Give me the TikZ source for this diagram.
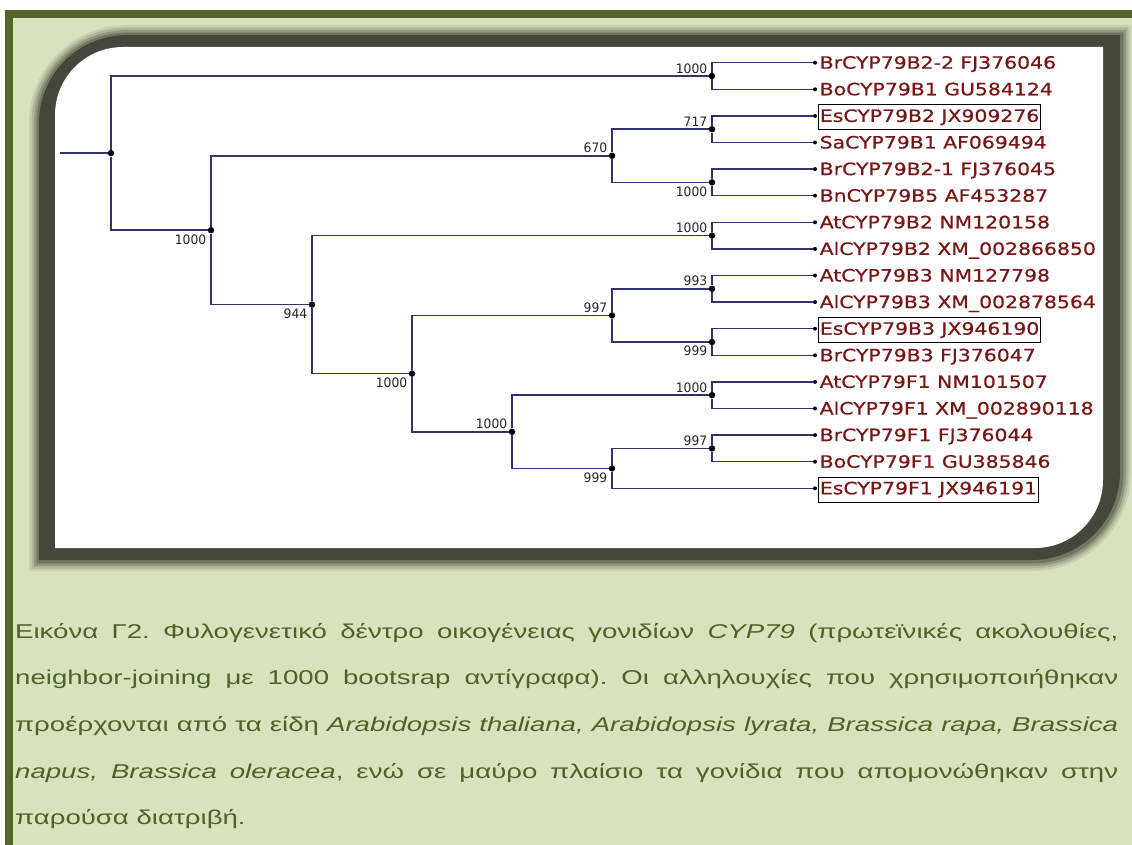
\documentclass[tikz,border=0pt]{standalone}
\usepackage{fontspec}
\newfontfamily\capfont[FakeStretch=1.38]{Liberation Sans}
\newfontfamily\leaffont[FakeStretch=1.2,FakeBold=0.6]{DejaVu Sans}
\newfontfamily\bsfont[FakeStretch=0.95]{DejaVu Sans}
\definecolor{barolive}{RGB}{83,101,42}
\definecolor{captext}{RGB}{79,98,40}
\definecolor{panelgreen}{RGB}{215,227,190}
\definecolor{framec}{RGB}{68,72,58}
\definecolor{treeblue}{RGB}{52,50,110}
\definecolor{leafred}{RGB}{120,22,22}
\newcommand\rrfill[6]{%
  \fill[#1] (#2,#5) -- (#2,{#3+(#6)}) .. controls (#2,{#3+0.4477*(#6)}) and ({#2+0.4477*(#6)},#3) .. ({#2+(#6)},#3)
   -- (#4,#3) -- (#4,{#5-(#6)}) .. controls (#4,{#5-0.4477*(#6)}) and ({#4-0.4477*(#6)},#5) .. ({#4-(#6)},#5) -- cycle;}
\begin{document}
\begin{tikzpicture}[x=1pt,y=-1pt,
  branch/.style={draw=treeblue, line width=1.5pt},
  inode/.style={circle, fill=black, inner sep=0pt, minimum size=6.5pt},
  lnode/.style={circle, fill=black, inner sep=0pt, minimum size=4pt},
  leaf/.style={anchor=base west, inner xsep=1.5pt, inner ysep=4pt, text height=13pt, text depth=4pt,
    font=\leaffont\fontsize{17}{17}\selectfont, text=leafred},
  boxed/.style={draw=black, line width=0.8pt},
  bsa/.style={anchor=south east, inner sep=0pt, xshift=-4.5pt, yshift=2.5pt, font=\bsfont\fontsize{13}{13}\selectfont, text=black!85},
  bsb/.style={anchor=north east, inner sep=0pt, xshift=-4.5pt, yshift=-4pt, font=\bsfont\fontsize{13}{13}\selectfont, text=black!85},
  capline/.style={anchor=base west, inner sep=0pt, font=\capfont\fontsize{20}{20}\selectfont\frenchspacing, text=captext}
]
\useasboundingbox (0,0) rectangle (1132,845);
% background
\fill[white] (0,0) rectangle (1132,845);
\fill[barolive] (5,10) rectangle (1132,18);
\fill[barolive] (5,10) rectangle (13,845);
\fill[panelgreen] (13,18) rectangle (1132,845);
% frame with soft edge
\foreach \d/\op in {10/0.12, 7.5/0.18, 5/0.28, 2.5/0.4}{
  \rrfill{framec, opacity=\op}{39-\d}{35-\d}{1121+\d}{561+\d}{88+\d}
}
\rrfill{framec}{39}{35}{1120}{560}{88}
\rrfill{white}{55}{47}{1103}{548}{68}

% leaves
\node[lnode] (l0) at (815,62.7) {};
\node[lnode] (l1) at (815,89.3) {};
\node[lnode] (l2) at (815,115.9) {};
\node[lnode] (l3) at (815,142.5) {};
\node[lnode] (l4) at (815,169.1) {};
\node[lnode] (l5) at (815,195.7) {};
\node[lnode] (l6) at (815,222.3) {};
\node[lnode] (l7) at (815,248.9) {};
\node[lnode] (l8) at (815,275.5) {};
\node[lnode] (l9) at (815,302.1) {};
\node[lnode] (l10) at (815,328.7) {};
\node[lnode] (l11) at (815,355.3) {};
\node[lnode] (l12) at (815,381.9) {};
\node[lnode] (l13) at (815,408.5) {};
\node[lnode] (l14) at (815,435.1) {};
\node[lnode] (l15) at (815,461.7) {};
\node[lnode] (l16) at (815,488.3) {};

\node[leaf] (t0) at (818,68.7) {BrCYP79B2-2 FJ376046};
\node[leaf] (t1) at (818,95.3) {BoCYP79B1 GU584124};
\node[leaf,boxed] (t2) at (818,121.9) {EsCYP79B2 JX909276};
\node[leaf] (t3) at (818,148.5) {SaCYP79B1 AF069494};
\node[leaf] (t4) at (818,175.1) {BrCYP79B2-1 FJ376045};
\node[leaf] (t5) at (818,201.7) {BnCYP79B5 AF453287};
\node[leaf] (t6) at (818,228.3) {AtCYP79B2 NM120158};
\node[leaf] (t7) at (818,254.9) {AlCYP79B2 XM\_002866850};
\node[leaf] (t8) at (818,281.5) {AtCYP79B3 NM127798};
\node[leaf] (t9) at (818,308.1) {AlCYP79B3 XM\_002878564};
\node[leaf,boxed] (t10) at (818,334.7) {EsCYP79B3 JX946190};
\node[leaf] (t11) at (818,361.3) {BrCYP79B3 FJ376047};
\node[leaf] (t12) at (818,387.9) {AtCYP79F1 NM101507};
\node[leaf] (t13) at (818,414.5) {AlCYP79F1 XM\_002890118};
\node[leaf] (t14) at (818,441.1) {BrCYP79F1 FJ376044};
\node[leaf] (t15) at (818,467.7) {BoCYP79F1 GU385846};
\node[leaf,boxed] (t16) at (818,494.3) {EsCYP79F1 JX946191};

% internal nodes
\node[inode] (c1) at (712,76) {};
\node[inode] (c2) at (712,129.2) {};
\node[inode] (c3) at (712,182.4) {};
\node[inode] (c4) at (712,235.6) {};
\node[inode] (c5) at (712,288.8) {};
\node[inode] (c6) at (712,342) {};
\node[inode] (c7) at (712,395.2) {};
\node[inode] (c8) at (712,448.4) {};
\node[inode] (n670) at (612,155.8) {};
\node[inode] (n997) at (612,315.4) {};
\node[inode] (n999) at (612,468.35) {};
\node[inode] (nG) at (512,431.8) {};
\node[inode] (nE) at (412,373.6) {};
\node[inode] (nD) at (312,304.6) {};
\node[inode] (nB) at (211,230.2) {};
\node[inode] (root) at (111,153.1) {};
\coordinate (stem) at (60,153.1);

% branches
\draw[branch] (stem) -- (root);
\draw[branch] (root) |- (c1);
\draw[branch] (root) |- (nB);
\draw[branch] (nB) |- (n670);
\draw[branch] (nB) |- (nD);
\draw[branch] (n670) |- (c2);
\draw[branch] (n670) |- (c3);
\draw[branch] (nD) |- (c4);
\draw[branch] (nD) |- (nE);
\draw[branch] (nE) |- (n997);
\draw[branch] (nE) |- (nG);
\draw[branch] (n997) |- (c5);
\draw[branch] (n997) |- (c6);
\draw[branch] (nG) |- (c7);
\draw[branch] (nG) |- (n999);
\draw[branch] (n999) |- (c8);
\draw[branch] (n999) |- (l16);
\draw[branch] (c1) |- (l0);
\draw[branch] (c1) |- (l1);
\draw[branch] (c2) |- (l2);
\draw[branch] (c2) |- (l3);
\draw[branch] (c3) |- (l4);
\draw[branch] (c3) |- (l5);
\draw[branch] (c4) |- (l6);
\draw[branch] (c4) |- (l7);
\draw[branch] (c5) |- (l8);
\draw[branch] (c5) |- (l9);
\draw[branch] (c6) |- (l10);
\draw[branch] (c6) |- (l11);
\draw[branch] (c7) |- (l12);
\draw[branch] (c7) |- (l13);
\draw[branch] (c8) |- (l14);
\draw[branch] (c8) |- (l15);

% bootstrap values
\node[bsa] (b1) at (c1) {1000};
\node[bsa] (b2) at (c2) {717};
\node[bsb] (b3) at (c3) {1000};
\node[bsa] (b4) at (c4) {1000};
\node[bsa] (b5) at (c5) {993};
\node[bsb] (b6) at (c6) {999};
\node[bsa] (b7) at (c7) {1000};
\node[bsa] (b8) at (c8) {997};
\node[bsa] (b9) at (n670) {670};
\node[bsa] (b10) at (n997) {997};
\node[bsb] (b11) at (n999) {999};
\node[bsa] (b12) at (nG) {1000};
\node[bsb] (b13) at (nE) {1000};
\node[bsb] (b14) at (nD) {944};
\node[bsb] (b15) at (nB) {1000};

% caption
\node[capline] (cap1) at (15,638) {\hbox to 1103pt{Εικόνα Γ2. Φυλογενετικό δέντρο οικογένειας γονιδίων \textit{CYP79} (πρωτεϊνικές ακολουθίες,}};
\node[capline] (cap2) at (15,684.7) {\hbox to 1103pt{neighbor-joining με 1000 bootsrap αντίγραφα). Οι αλληλουχίες που χρησιμοποιήθηκαν}};
\node[capline] (cap3) at (15,731.3) {\hbox to 1103pt{προέρχονται από τα είδη \textit{Arabidopsis thaliana, Arabidopsis lyrata, Brassica rapa, Brassica}}};
\node[capline] (cap4) at (15,778) {\hbox to 1103pt{\textit{napus, Brassica oleracea}, ενώ σε μαύρο πλαίσιο τα γονίδια που απομονώθηκαν στην}};
\node[capline] (cap5) at (15,824.7) {παρούσα διατριβή.};
\end{tikzpicture}
\end{document}
